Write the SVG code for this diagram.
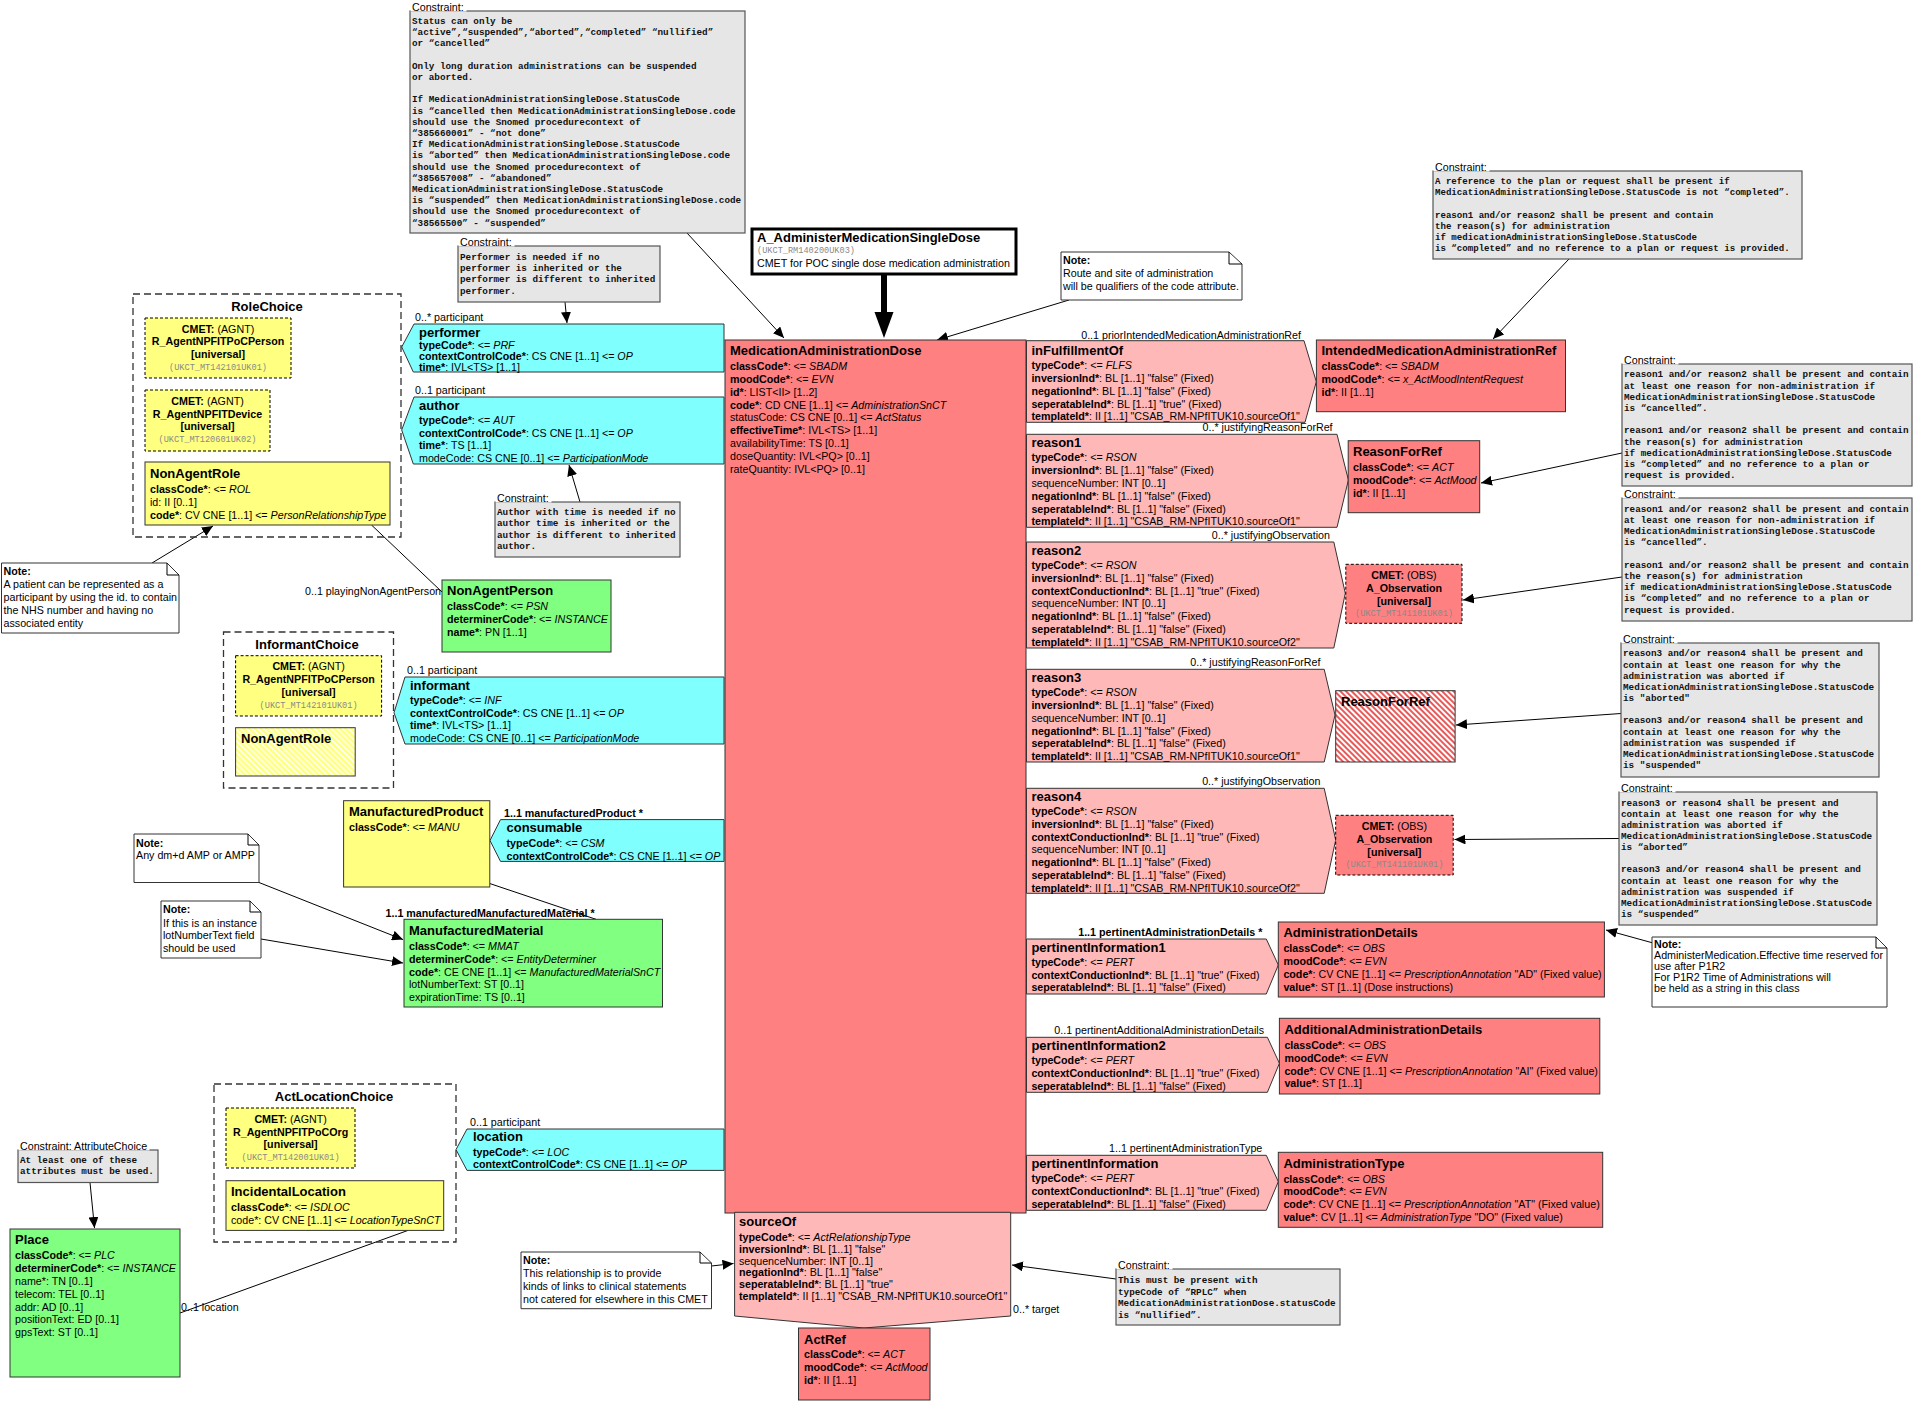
<svg xmlns="http://www.w3.org/2000/svg" width="1914" height="1401" viewBox="0 0 1914 1401">
<style>
text{font-family:"Liberation Sans",Arial,sans-serif;font-size:10.7px;fill:#000}
.h{font-weight:bold;font-size:13px}
.b{font-weight:bold}
.i{font-style:italic}
.m{font-family:"Liberation Mono","Courier New",monospace;font-size:9.3px;font-weight:bold;fill:#111}
.m2{font-size:9.1px}
.id{font-family:"Liberation Mono","Courier New",monospace;font-size:8.6px;fill:#8a8a8a}
.c{text-anchor:middle}
.e{text-anchor:end}
.con{fill:#E6E6E6;stroke:#555;stroke-width:1.2}
.note{fill:#fff;stroke:#333;stroke-width:1}
.part{fill:#80FFFF;stroke:#333;stroke-width:1}
.rel{fill:#FFB8B8;stroke:#333;stroke-width:1}
.act{fill:#FF8080;stroke:#333;stroke-width:1}
.role{fill:#FFFF80;stroke:#333;stroke-width:1}
.ent{fill:#80FF80;stroke:#333;stroke-width:1}
.cmetY{fill:#FFFF80;stroke:#000;stroke-width:1;stroke-dasharray:3,2}
.cmetR{fill:#FF8080;stroke:#000;stroke-width:1;stroke-dasharray:3,2}
.choice{fill:none;stroke:#333;stroke-width:1.3;stroke-dasharray:7,4}
.lbg{fill:#fff}
.ln{fill:none;stroke:#000;stroke-width:1}
.arr{fill:none;stroke:#000;stroke-width:1;marker-end:url(#ah)}
</style>
<defs>
<marker id="ah" markerUnits="userSpaceOnUse" markerWidth="12" markerHeight="10" refX="11" refY="5" orient="auto">
<path d="M0,0 L11,5 L0,10 Z" fill="#000"/>
</marker>
<pattern id="hatchY" patternUnits="userSpaceOnUse" width="4" height="4" patternTransform="rotate(45)">
<rect width="4" height="4" fill="#FFFF80"/>
<rect width="4" height="1.4" fill="#fff"/>
</pattern>
<pattern id="hatchR" patternUnits="userSpaceOnUse" width="4" height="4" patternTransform="rotate(45)">
<rect width="4" height="4" fill="#fff"/>
<rect width="4" height="2" fill="#E85A5A"/>
</pattern>
</defs>
<rect width="1914" height="1401" fill="#fff"/>

<!-- Connectors -->
<g id="connectors">
<path class="arr" d="M687,233 L784,338"/>
<path class="arr" d="M1069,300 L937,340"/>
<path class="arr" d="M565,302 L567,323"/>
<path class="arr" d="M580,502 L569,465"/>
<path class="arr" d="M152,563 L213,526"/>
<path class="ln" d="M371.5,525 L442,592"/>
<path class="arr" d="M1569,259 L1493,339"/>
<path class="arr" d="M1622,453 L1481,483"/>
<path class="arr" d="M1622,577 L1463,600"/>
<path class="arr" d="M1621,713.5 L1456,725"/>
<path class="arr" d="M1619,838.5 L1454.5,839.5"/>
<path class="arr" d="M1652,942.7 L1606,930"/>
<path class="arr" d="M259,882.5 L403,939.6"/>
<path class="arr" d="M261,939 L403,963"/>
<path class="ln" d="M490,883.6 L596,919.3"/>
<path class="arr" d="M90,1182.5 L94.5,1228"/>
<path class="ln" d="M408,1230.4 L180,1313"/>
<path class="arr" d="M711.5,1266 L733.5,1263.5"/>
<path class="arr" d="M1116,1279 L1012,1265"/>
<path d="M884,274 L884,315" stroke="#000" stroke-width="6"/>
<path d="M874.5,312 L893.5,312 L884,338 Z" fill="#000"/>
<text x="305" y="595.4">0..1 playingNonAgentPerson</text>
<text x="181" y="1311">0..1 location</text>
<text x="1013" y="1313">0..* target</text>
</g>

<!-- Constraint C1 -->
<g id="constraint-status">
<rect class="con" x="410" y="11" width="335" height="222"/>
<rect class="lbg" x="410.5" y="1" width="56" height="10.5"/>
<text x="412" y="11">Constraint:</text>
<text class="m" x="412" y="24">Status can only be</text>
<text class="m" x="412" y="35.2">“active”,“suspended”,“aborted”,“completed” “nullified”</text>
<text class="m" x="412" y="46.4">or “cancelled”</text>
<text class="m" x="412" y="68.8">Only long duration administrations can be suspended</text>
<text class="m" x="412" y="80">or aborted.</text>
<text class="m" x="412" y="102.4">If MedicationAdministrationSingleDose.StatusCode</text>
<text class="m" x="412" y="113.6">is “cancelled then MedicationAdministrationSingleDose.code</text>
<text class="m" x="412" y="124.8">should use the Snomed procedurecontext of</text>
<text class="m" x="412" y="136">“385660001” - “not done”</text>
<text class="m" x="412" y="147.2">If MedicationAdministrationSingleDose.StatusCode</text>
<text class="m" x="412" y="158.4">is “aborted” then MedicationAdministrationSingleDose.code</text>
<text class="m" x="412" y="169.6">should use the Snomed procedurecontext of</text>
<text class="m" x="412" y="180.8">“385657008” - “abandoned”</text>
<text class="m" x="412" y="192">MedicationAdministrationSingleDose.StatusCode</text>
<text class="m" x="412" y="203.2">is “suspended” then MedicationAdministrationSingleDose.code</text>
<text class="m" x="412" y="214.4">should use the Snomed procedurecontext of</text>
<text class="m" x="412" y="225.6">“38565500” - “suspended”</text>
</g>

<g id="constraint-performer">
<rect class="con" x="458" y="246" width="202" height="56"/>
<rect class="lbg" x="458.5" y="236" width="56" height="10.5"/>
<text x="460" y="246">Constraint:</text>
<text class="m" x="460" y="259.7">Performer is needed if no</text>
<text class="m" x="460" y="271">performer is inherited or the</text>
<text class="m" x="460" y="282.3">performer is different to inherited</text>
<text class="m" x="460" y="293.7">performer.</text>
</g>

<g id="constraint-author">
<rect class="con" x="495" y="502" width="185" height="55"/>
<rect class="lbg" x="495.5" y="492" width="56" height="10.5"/>
<text x="497" y="502">Constraint:</text>
<text class="m" x="497" y="515">Author with time is needed if no</text>
<text class="m" x="497" y="526.3">author time is inherited or the</text>
<text class="m" x="497" y="537.7">author is different to inherited</text>
<text class="m" x="497" y="549">author.</text>
</g>

<g id="constraint-reference">
<rect class="con" x="1433" y="171" width="369" height="88"/>
<rect class="lbg" x="1433.5" y="161" width="56" height="10.5"/>
<text x="1435" y="171">Constraint:</text>
<text class="m m2" x="1435" y="184">A reference to the plan or request shall be present if</text>
<text class="m m2" x="1435" y="195.3">MedicationAdministrationSingleDose.StatusCode is not “completed”.</text>
<text class="m m2" x="1435" y="217.7">reason1 and/or reason2 shall be present and contain</text>
<text class="m m2" x="1435" y="229">the reason(s) for administration</text>
<text class="m m2" x="1435" y="240.3">if medicationAdministrationSingleDose.StatusCode</text>
<text class="m m2" x="1435" y="251.3">is “completed” and no reference to a plan or request is provided.</text>
</g>

<g id="constraint-reason1">
<rect class="con" x="1622" y="364" width="290" height="122"/>
<rect class="lbg" x="1622.5" y="354" width="56" height="10.5"/>
<text x="1624" y="364">Constraint:</text>
<text class="m" x="1624" y="377.3">reason1 and/or reason2 shall be present and contain</text>
<text class="m" x="1624" y="388.7">at least one reason for non-administration if</text>
<text class="m" x="1624" y="400">MedicationAdministrationSingleDose.StatusCode</text>
<text class="m" x="1624" y="411">is “cancelled”.</text>
<text class="m" x="1624" y="433.3">reason1 and/or reason2 shall be present and contain</text>
<text class="m" x="1624" y="444.7">the reason(s) for administration</text>
<text class="m" x="1624" y="455.7">if medicationAdministrationSingleDose.StatusCode</text>
<text class="m" x="1624" y="467">is “completed” and no reference to a plan or</text>
<text class="m" x="1624" y="478.3">request is provided.</text>
</g>

<g id="constraint-reason2">
<rect class="con" x="1622" y="498" width="290" height="123"/>
<rect class="lbg" x="1622.5" y="488" width="56" height="10.5"/>
<text x="1624" y="498">Constraint:</text>
<text class="m" x="1624" y="512">reason1 and/or reason2 shall be present and contain</text>
<text class="m" x="1624" y="523.3">at least one reason for non-administration if</text>
<text class="m" x="1624" y="534.3">MedicationAdministrationSingleDose.StatusCode</text>
<text class="m" x="1624" y="545.3">is “cancelled”.</text>
<text class="m" x="1624" y="568">reason1 and/or reason2 shall be present and contain</text>
<text class="m" x="1624" y="579">the reason(s) for administration</text>
<text class="m" x="1624" y="590.3">if medicationAdministrationSingleDose.StatusCode</text>
<text class="m" x="1624" y="601.3">is “completed” and no reference to a plan or</text>
<text class="m" x="1624" y="612.7">request is provided.</text>
</g>

<g id="constraint-reason3">
<rect class="con" x="1621" y="643" width="258" height="134"/>
<rect class="lbg" x="1621.5" y="633" width="56" height="10.5"/>
<text x="1623" y="643">Constraint:</text>
<text class="m" x="1623" y="656.3">reason3 and/or reason4 shall be present and</text>
<text class="m" x="1623" y="667.7">contain at least one reason for why the</text>
<text class="m" x="1623" y="679">administration was aborted if</text>
<text class="m" x="1623" y="689.7">MedicationAdministrationSingleDose.StatusCode</text>
<text class="m" x="1623" y="701">is "aborted"</text>
<text class="m" x="1623" y="723">reason3 and/or reason4 shall be present and</text>
<text class="m" x="1623" y="734.7">contain at least one reason for why the</text>
<text class="m" x="1623" y="745.7">administration was suspended if</text>
<text class="m" x="1623" y="757">MedicationAdministrationSingleDose.StatusCode</text>
<text class="m" x="1623" y="768.3">is "suspended"</text>
</g>

<g id="constraint-reason4">
<rect class="con" x="1619" y="792" width="258" height="133"/>
<rect class="lbg" x="1619.5" y="782" width="56" height="10.5"/>
<text x="1621" y="792">Constraint:</text>
<text class="m" x="1621" y="805.7">reason3 or reason4 shall be present and</text>
<text class="m" x="1621" y="817">contain at least one reason for why the</text>
<text class="m" x="1621" y="828">administration was aborted if</text>
<text class="m" x="1621" y="839">MedicationAdministrationSingleDose.StatusCode</text>
<text class="m" x="1621" y="850.3">is “aborted”</text>
<text class="m" x="1621" y="872.3">reason3 and/or reason4 shall be present and</text>
<text class="m" x="1621" y="883.7">contain at least one reason for why the</text>
<text class="m" x="1621" y="894.7">administration was suspended if</text>
<text class="m" x="1621" y="905.7">MedicationAdministrationSingleDose.StatusCode</text>
<text class="m" x="1621" y="917">is “suspended”</text>
</g>

<g id="constraint-attributechoice">
<rect class="con" x="18" y="1150" width="140" height="32.5"/>
<rect class="lbg" x="18.5" y="1140" width="131" height="10.5"/>
<text x="20" y="1150">Constraint: AttributeChoice</text>
<text class="m" x="20" y="1163.4">At least one of these</text>
<text class="m" x="20" y="1174.4">attributes must be used.</text>
</g>

<g id="constraint-rplc">
<rect class="con" x="1116" y="1269" width="224" height="56"/>
<rect class="lbg" x="1116.5" y="1259" width="56" height="10.5"/>
<text x="1118" y="1269">Constraint:</text>
<text class="m" x="1118" y="1283">This must be present with</text>
<text class="m" x="1118" y="1294.7">typeCode of “RPLC” when</text>
<text class="m" x="1118" y="1306">MedicationAdministrationDose.statusCode</text>
<text class="m" x="1118" y="1317.7">is “nullified”.</text>
</g>

<!-- Notes -->
<g id="note-patient">
<path class="note" d="M1.5,563 H167 L179,575 V633 H1.5 Z"/>
<path class="ln" d="M167,563 V575 H179"/>
<text class="b" x="3.5" y="575.4">Note:</text>
<text x="3.5" y="588.4">A patient can be represented as  a</text>
<text x="3.5" y="601">participant by using the id. to contain</text>
<text x="3.5" y="613.7">the NHS number and having no</text>
<text x="3.5" y="626.7">associated entity</text>
</g>

<g id="note-route">
<path class="note" d="M1061,252 H1229 L1242,264 V300 H1061 Z"/>
<path class="ln" d="M1229,252 V264 H1242"/>
<text class="b" x="1063" y="264.4">Note:</text>
<text x="1063" y="277">Route and site of administration</text>
<text x="1063" y="289.7">will be qualifiers of the code attribute.</text>
</g>

<g id="note-amp">
<path class="note" d="M134,834 H248 L259,845 V882.5 H134 Z"/>
<path class="ln" d="M248,834 V845 H259"/>
<text class="b" x="136" y="846.6">Note:</text>
<text x="136" y="859.1">Any dm+d AMP or AMPP</text>
</g>

<g id="note-lot">
<path class="note" d="M161,901 H250 L261,912 V958 H161 Z"/>
<path class="ln" d="M250,901 V912 H261"/>
<text class="b" x="163" y="913.3">Note:</text>
<text x="163" y="926.6">If this is an instance</text>
<text x="163" y="939.1">lotNumberText field</text>
<text x="163" y="951.9">should be used</text>
</g>

<g id="note-relationship">
<path class="note" d="M521,1252 H700 L711.5,1263 V1308.7 H521 Z"/>
<path class="ln" d="M700,1252 V1263 H711.5"/>
<text class="b" x="523" y="1264.1">Note:</text>
<text x="523" y="1276.9">This relationship is to provide</text>
<text x="523" y="1289.7">kinds of links to clinical statements</text>
<text x="523" y="1302.7">not catered for elsewhere in this CMET</text>
</g>

<g id="note-effectivetime">
<path class="note" d="M1652,937 H1876 L1887,948 V1007 H1652 Z"/>
<path class="ln" d="M1876,937 V948 H1887"/>
<text class="b" x="1654" y="947.7">Note:</text>
<text x="1654" y="958.7">AdministerMedication.Effective time reserved for</text>
<text x="1654" y="970.4">use after P1R2</text>
<text x="1654" y="981">For P1R2 Time of Administrations  will</text>
<text x="1654" y="992">be held as a string in this class</text>
</g>

<!-- Entry point -->
<g id="entry-point">
<rect x="752" y="229" width="264" height="45" fill="#fff" stroke="#000" stroke-width="3"/>
<text class="h" x="757" y="242">A_AdministerMedicationSingleDose</text>
<text class="id" x="757" y="252.5">(UKCT_RM140200UK03)</text>
<text x="757" y="267">CMET for POC single dose medication administration</text>
</g>

<!-- Main act -->
<g id="MedicationAdministrationDose">
<rect class="act" x="725" y="340" width="301" height="873"/>
<text class="h" x="730" y="354.8">MedicationAdministrationDose</text>
<text x="730" y="370.4"><tspan class="b">classCode*</tspan>: &lt;= <tspan class="i">SBADM</tspan></text>
<text x="730" y="383"><tspan class="b">moodCode*</tspan>: &lt;= <tspan class="i">EVN</tspan></text>
<text x="730" y="395.7"><tspan class="b">id*</tspan>: LIST&lt;II&gt; [1..2]</text>
<text x="730" y="408.7"><tspan class="b">code*</tspan>: CD CNE [1..1] &lt;= <tspan class="i">AdministrationSnCT</tspan></text>
<text x="730" y="421.4">statusCode: CS CNE [0..1] &lt;= <tspan class="i">ActStatus</tspan></text>
<text x="730" y="434.4"><tspan class="b">effectiveTime*</tspan>: IVL&lt;TS&gt; [1..1]</text>
<text x="730" y="447">availabilityTime: TS [0..1]</text>
<text x="730" y="459.7">doseQuantity: IVL&lt;PQ&gt; [0..1]</text>
<text x="730" y="472.7">rateQuantity: IVL&lt;PQ&gt; [0..1]</text>
</g>

<!-- Participations -->
<g id="performer">
<text x="415" y="321">0..* participant</text>
<path class="part" d="M724,324 H414 L401.7,347 L413.3,372 H724 Z"/>
<text class="h" x="419" y="337">performer</text>
<text x="419" y="349.4"><tspan class="b">typeCode*</tspan>: &lt;= <tspan class="i">PRF</tspan></text>
<text x="419" y="360"><tspan class="b">contextControlCode*</tspan>: CS CNE [1..1] &lt;= <tspan class="i">OP</tspan></text>
<text x="419" y="370.7"><tspan class="b">time*</tspan>: IVL&lt;TS&gt; [1..1]</text>
</g>

<g id="author">
<text x="415" y="394">0..1 participant</text>
<path class="part" d="M724,397 H414 L401.7,430 L413.3,464 H724 Z"/>
<text class="h" x="419" y="409.5">author</text>
<text x="419" y="424"><tspan class="b">typeCode*</tspan>: &lt;= <tspan class="i">AUT</tspan></text>
<text x="419" y="436.7"><tspan class="b">contextControlCode*</tspan>: CS CNE [1..1] &lt;= <tspan class="i">OP</tspan></text>
<text x="419" y="449.4"><tspan class="b">time*</tspan>: TS [1..1]</text>
<text x="419" y="462">modeCode: CS CNE [0..1] &lt;= <tspan class="i">ParticipationMode</tspan></text>
</g>

<g id="informant">
<text x="407" y="674">0..1 participant</text>
<path class="part" d="M724,677 H405 L394,712.7 L405,744 H724 Z"/>
<text class="h" x="410" y="689.5">informant</text>
<text x="410" y="703.7"><tspan class="b">typeCode*</tspan>: &lt;= <tspan class="i">INF</tspan></text>
<text x="410" y="717"><tspan class="b">contextControlCode*</tspan>: CS CNE [1..1] &lt;= <tspan class="i">OP</tspan></text>
<text x="410" y="729.4"><tspan class="b">time*</tspan>: IVL&lt;TS&gt; [1..1]</text>
<text x="410" y="742">modeCode: CS CNE [0..1] &lt;= <tspan class="i">ParticipationMode</tspan></text>
</g>

<g id="consumable">
<text class="b" x="504" y="816.7">1..1 manufacturedProduct  *</text>
<path class="part" d="M724,819.6 H500.5 L490,840.5 L500.5,861.4 H724 Z"/>
<text class="h" x="506.5" y="832.4">consumable</text>
<text x="506.5" y="847"><tspan class="b">typeCode*</tspan>: &lt;= <tspan class="i">CSM</tspan></text>
<text x="506.5" y="859.7"><tspan class="b">contextControlCode*</tspan>: CS CNE [1..1] &lt;= <tspan class="i">OP</tspan></text>
</g>

<g id="location">
<text x="470" y="1125.7">0..1 participant</text>
<path class="part" d="M724,1129 H467 L456,1149.6 L467,1170.4 H724 Z"/>
<text class="h" x="473" y="1141.3">location</text>
<text x="473" y="1155.5"><tspan class="b">typeCode*</tspan>: &lt;= <tspan class="i">LOC</tspan></text>
<text x="473" y="1168.3"><tspan class="b">contextControlCode*</tspan>: CS CNE [1..1] &lt;= <tspan class="i">OP</tspan></text>
</g>

<!-- RoleChoice -->
<g id="RoleChoice">
<rect class="choice" x="133" y="294" width="268" height="243"/>
<text class="h c" x="267" y="311">RoleChoice</text>
</g>
<g id="cmet-poc-person-1">
<rect class="cmetY" x="145" y="318" width="146" height="60"/>
<text class="c" x="218" y="332.7"><tspan class="b">CMET:</tspan> (AGNT)</text>
<text class="c b" x="218" y="345.4">R_AgentNPFITPoCPerson</text>
<text class="c b" x="218" y="358">[universal]</text>
<text class="id c" x="218" y="370">(UKCT_MT142101UK01)</text>
</g>
<g id="cmet-device">
<rect class="cmetY" x="145" y="390" width="125" height="61"/>
<text class="c" x="207.5" y="404.7"><tspan class="b">CMET:</tspan> (AGNT)</text>
<text class="c b" x="207.5" y="417.7">R_AgentNPFITDevice</text>
<text class="c b" x="207.5" y="430.4">[universal]</text>
<text class="id c" x="207.5" y="442">(UKCT_MT120601UK02)</text>
</g>
<g id="NonAgentRole">
<rect class="role" x="145" y="462" width="245" height="63"/>
<text class="h" x="150" y="477.5">NonAgentRole</text>
<text x="150" y="493"><tspan class="b">classCode*</tspan>: &lt;= <tspan class="i">ROL</tspan></text>
<text x="150" y="505.7">id: II [0..1]</text>
<text x="150" y="518.7"><tspan class="b">code*</tspan>: CV CNE [1..1] &lt;= <tspan class="i">PersonRelationshipType</tspan></text>
</g>

<g id="NonAgentPerson">
<rect class="ent" x="442" y="580" width="169" height="72"/>
<text class="h" x="447" y="595">NonAgentPerson</text>
<text x="447" y="610.4"><tspan class="b">classCode*</tspan>: &lt;= <tspan class="i">PSN</tspan></text>
<text x="447" y="623"><tspan class="b">determinerCode*</tspan>: &lt;= <tspan class="i">INSTANCE</tspan></text>
<text x="447" y="636"><tspan class="b">name*</tspan>: PN [1..1]</text>
</g>

<!-- InformantChoice -->
<g id="InformantChoice">
<rect class="choice" x="223.5" y="632" width="170" height="156"/>
<text class="h c" x="307" y="648.5">InformantChoice</text>
</g>
<g id="cmet-poc-person-2">
<rect class="cmetY" x="235.6" y="655.7" width="146" height="60.3"/>
<text class="c" x="308.6" y="670.4"><tspan class="b">CMET:</tspan> (AGNT)</text>
<text class="c b" x="308.6" y="683">R_AgentNPFITPoCPerson</text>
<text class="c b" x="308.6" y="696">[universal]</text>
<text class="id c" x="308.6" y="707.5">(UKCT_MT142101UK01)</text>
</g>
<g id="NonAgentRole-ref">
<rect x="235.6" y="727.7" width="119.6" height="48.3" fill="url(#hatchY)" stroke="#333" stroke-width="1"/>
<text class="h" x="241" y="742.8">NonAgentRole</text>
</g>

<!-- Manufactured -->
<g id="ManufacturedProduct">
<rect class="role" x="343.6" y="800.7" width="146.2" height="86.3"/>
<text class="h" x="349" y="815.9">ManufacturedProduct</text>
<text x="349" y="830.7"><tspan class="b">classCode*</tspan>: &lt;= <tspan class="i">MANU</tspan></text>
</g>
<g id="ManufacturedMaterial">
<text class="b" x="385.5" y="916.6">1..1 manufacturedManufacturedMaterial  *</text>
<rect class="ent" x="404" y="919.3" width="258.5" height="87.7"/>
<text class="h" x="409" y="934.5">ManufacturedMaterial</text>
<text x="409" y="949.7"><tspan class="b">classCode*</tspan>: &lt;= <tspan class="i">MMAT</tspan></text>
<text x="409" y="962.7"><tspan class="b">determinerCode*</tspan>: &lt;= <tspan class="i">EntityDeterminer</tspan></text>
<text x="409" y="975.5"><tspan class="b">code*</tspan>: CE CNE [1..1] &lt;= <tspan class="i">ManufacturedMaterialSnCT</tspan></text>
<text x="409" y="988">lotNumberText: ST [0..1]</text>
<text x="409" y="1001.2">expirationTime: TS [0..1]</text>
</g>

<!-- ActLocationChoice -->
<g id="ActLocationChoice">
<rect class="choice" x="214" y="1084" width="242" height="158"/>
<text class="h c" x="334" y="1101.3">ActLocationChoice</text>
</g>
<g id="cmet-poc-org">
<rect class="cmetY" x="226" y="1108" width="129" height="60"/>
<text class="c" x="290.6" y="1122.7"><tspan class="b">CMET:</tspan> (AGNT)</text>
<text class="c b" x="290.6" y="1135.5">R_AgentNPFITPoCOrg</text>
<text class="c b" x="290.6" y="1148.3">[universal]</text>
<text class="id c" x="290.6" y="1159.5">(UKCT_MT142001UK01)</text>
</g>
<g id="IncidentalLocation">
<rect class="role" x="226" y="1180.7" width="217.7" height="49.7"/>
<text class="h" x="231" y="1195.5">IncidentalLocation</text>
<text x="231" y="1210.5"><tspan class="b">classCode*</tspan>: &lt;= <tspan class="i">ISDLOC</tspan></text>
<text x="231" y="1223.7">code*: CV CNE [1..1] &lt;= <tspan class="i">LocationTypeSnCT</tspan></text>
</g>

<g id="Place">
<rect class="ent" x="10" y="1229" width="170" height="148"/>
<text class="h" x="15" y="1244">Place</text>
<text x="15" y="1259.4"><tspan class="b">classCode*</tspan>: &lt;= <tspan class="i">PLC</tspan></text>
<text x="15" y="1272.3"><tspan class="b">determinerCode*</tspan>: &lt;= <tspan class="i">INSTANCE</tspan></text>
<text x="15" y="1285">name*: TN [0..1]</text>
<text x="15" y="1298">telecom: TEL [0..1]</text>
<text x="15" y="1310.7">addr: AD [0..1]</text>
<text x="15" y="1323.3">positionText: ED [0..1]</text>
<text x="15" y="1336.2">gpsText: ST [0..1]</text>
</g>

<!-- sourceOf / ActRef -->
<g id="sourceOf">
<path class="rel" d="M734.6,1212.3 H1010.7 V1316 L864,1328 L734.6,1316 Z"/>
<text class="h" x="739" y="1226">sourceOf</text>
<text x="739" y="1241"><tspan class="b">typeCode*</tspan>: &lt;= <tspan class="i">ActRelationshipType</tspan></text>
<text x="739" y="1252.7"><tspan class="b">inversionInd*</tspan>: BL [1..1] "false"</text>
<text x="739" y="1264.7">sequenceNumber: INT [0..1]</text>
<text x="739" y="1276.4"><tspan class="b">negationInd*</tspan>: BL [1..1] "false"</text>
<text x="739" y="1288"><tspan class="b">seperatableInd*</tspan>: BL [1..1] "true"</text>
<text x="739" y="1300"><tspan class="b">templateId*</tspan>: II [1..1] "CSAB_RM-NPfITUK10.sourceOf1"</text>
</g>
<g id="ActRef">
<rect class="act" x="798.5" y="1328" width="131.5" height="72"/>
<text class="h" x="804" y="1343.6">ActRef</text>
<text x="804" y="1358.4"><tspan class="b">classCode*</tspan>: &lt;= <tspan class="i">ACT</tspan></text>
<text x="804" y="1371.4"><tspan class="b">moodCode*</tspan>: &lt;= <tspan class="i">ActMood</tspan></text>
<text x="804" y="1384.4"><tspan class="b">id*</tspan>: II [1..1]</text>
</g>

<!-- Right side act relationships -->
<g id="inFulfillmentOf">
<text class="e" x="1301" y="338.7">0..1 priorIntendedMedicationAdministrationRef</text>
<path class="rel" d="M1026.5,340.7 H1304 L1316.3,381.7 L1305,422.3 H1026.5 Z"/>
<text class="h" x="1031.4" y="354.5">inFulfillmentOf</text>
<text x="1031.4" y="368.7"><tspan class="b">typeCode*</tspan>: &lt;= <tspan class="i">FLFS</tspan></text>
<text x="1031.4" y="382"><tspan class="b">inversionInd*</tspan>: BL [1..1] "false" (Fixed)</text>
<text x="1031.4" y="394.7"><tspan class="b">negationInd*</tspan>: BL [1..1] "false" (Fixed)</text>
<text x="1031.4" y="407.7"><tspan class="b">seperatableInd*</tspan>: BL [1..1] "true" (Fixed)</text>
<text x="1031.4" y="420.4"><tspan class="b">templateId*</tspan>: II [1..1] "CSAB_RM-NPfITUK10.sourceOf1"</text>
</g>
<g id="IntendedMedicationAdministrationRef">
<rect class="act" x="1316.4" y="340" width="249.1" height="71.7"/>
<text class="h" x="1321.5" y="355.2">IntendedMedicationAdministrationRef</text>
<text x="1321.5" y="370.4"><tspan class="b">classCode*</tspan>: &lt;= <tspan class="i">SBADM</tspan></text>
<text x="1321.5" y="383"><tspan class="b">moodCode*</tspan>: &lt;= <tspan class="i">x_ActMoodIntentRequest</tspan></text>
<text x="1321.5" y="396"><tspan class="b">id*</tspan>: II [1..1]</text>
</g>

<g id="reason1">
<text class="e" x="1332.6" y="431.4">0..* justifyingReasonForRef</text>
<path class="rel" d="M1026.5,434.3 H1337 L1348.4,480 L1337,527.3 H1026.5 Z"/>
<text class="h" x="1031.4" y="447.2">reason1</text>
<text x="1031.4" y="461.4"><tspan class="b">typeCode*</tspan>: &lt;= <tspan class="i">RSON</tspan></text>
<text x="1031.4" y="474.4"><tspan class="b">inversionInd*</tspan>: BL [1..1] "false" (Fixed)</text>
<text x="1031.4" y="487">sequenceNumber: INT [0..1]</text>
<text x="1031.4" y="500"><tspan class="b">negationInd*</tspan>: BL [1..1] "false" (Fixed)</text>
<text x="1031.4" y="512.7"><tspan class="b">seperatableInd*</tspan>: BL [1..1] "false" (Fixed)</text>
<text x="1031.4" y="525.4"><tspan class="b">templateId*</tspan>: II [1..1] "CSAB_RM-NPfITUK10.sourceOf1"</text>
</g>
<g id="ReasonForRef">
<rect class="act" x="1348.2" y="440.7" width="131.5" height="72"/>
<text class="h" x="1353" y="456.2">ReasonForRef</text>
<text x="1353" y="470.7"><tspan class="b">classCode*</tspan>: &lt;= <tspan class="i">ACT</tspan></text>
<text x="1353" y="483.7"><tspan class="b">moodCode*</tspan>: &lt;= <tspan class="i">ActMood</tspan></text>
<text x="1353" y="496.7"><tspan class="b">id*</tspan>: II [1..1]</text>
</g>

<g id="reason2">
<text class="e" x="1330" y="539">0..* justifyingObservation</text>
<path class="rel" d="M1026.5,542 H1333.8 L1345.3,593.3 L1333.8,648 H1026.5 Z"/>
<text class="h" x="1031.4" y="554.5">reason2</text>
<text x="1031.4" y="568.7"><tspan class="b">typeCode*</tspan>: &lt;= <tspan class="i">RSON</tspan></text>
<text x="1031.4" y="581.7"><tspan class="b">inversionInd*</tspan>: BL [1..1] "false" (Fixed)</text>
<text x="1031.4" y="594.7"><tspan class="b">contextConductionInd*</tspan>: BL [1..1] "true" (Fixed)</text>
<text x="1031.4" y="607.4">sequenceNumber: INT [0..1]</text>
<text x="1031.4" y="620"><tspan class="b">negationInd*</tspan>: BL [1..1] "false" (Fixed)</text>
<text x="1031.4" y="633"><tspan class="b">seperatableInd*</tspan>: BL [1..1] "false" (Fixed)</text>
<text x="1031.4" y="645.7"><tspan class="b">templateId*</tspan>: II [1..1] "CSAB_RM-NPfITUK10.sourceOf2"</text>
</g>
<g id="cmet-observation-1">
<rect class="cmetR" x="1345.8" y="564.3" width="116.2" height="59"/>
<text class="c" x="1404" y="579"><tspan class="b">CMET:</tspan> (OBS)</text>
<text class="c b" x="1404" y="591.7">A_Observation</text>
<text class="c b" x="1404" y="604.7">[universal]</text>
<text class="id c" x="1404" y="616">(UKCT_MT141101UK01)</text>
</g>

<g id="reason3">
<text class="e" x="1320.4" y="666">0..* justifyingReasonForRef</text>
<path class="rel" d="M1026.5,669.3 H1324.2 L1335,715 L1324.2,762 H1026.5 Z"/>
<text class="h" x="1031.4" y="681.8">reason3</text>
<text x="1031.4" y="696"><tspan class="b">typeCode*</tspan>: &lt;= <tspan class="i">RSON</tspan></text>
<text x="1031.4" y="709"><tspan class="b">inversionInd*</tspan>: BL [1..1] "false" (Fixed)</text>
<text x="1031.4" y="721.7">sequenceNumber: INT [0..1]</text>
<text x="1031.4" y="734.7"><tspan class="b">negationInd*</tspan>: BL [1..1] "false" (Fixed)</text>
<text x="1031.4" y="747.4"><tspan class="b">seperatableInd*</tspan>: BL [1..1] "false" (Fixed)</text>
<text x="1031.4" y="760"><tspan class="b">templateId*</tspan>: II [1..1] "CSAB_RM-NPfITUK10.sourceOf1"</text>
</g>
<g id="ReasonForRef-ref">
<rect x="1335.7" y="690.7" width="119.4" height="71.3" fill="url(#hatchR)" stroke="#333" stroke-width="1"/>
<text class="h" x="1341" y="705.5">ReasonForRef</text>
</g>

<g id="reason4">
<text class="e" x="1320.4" y="785.4">0..* justifyingObservation</text>
<path class="rel" d="M1026.5,788.3 H1324.2 L1335.7,840 L1324.2,893.3 H1026.5 Z"/>
<text class="h" x="1031.4" y="801">reason4</text>
<text x="1031.4" y="814.7"><tspan class="b">typeCode*</tspan>: &lt;= <tspan class="i">RSON</tspan></text>
<text x="1031.4" y="827.7"><tspan class="b">inversionInd*</tspan>: BL [1..1] "false" (Fixed)</text>
<text x="1031.4" y="840.7"><tspan class="b">contextConductionInd*</tspan>: BL [1..1] "true" (Fixed)</text>
<text x="1031.4" y="853.4">sequenceNumber: INT [0..1]</text>
<text x="1031.4" y="866.4"><tspan class="b">negationInd*</tspan>: BL [1..1] "false" (Fixed)</text>
<text x="1031.4" y="879"><tspan class="b">seperatableInd*</tspan>: BL [1..1] "false" (Fixed)</text>
<text x="1031.4" y="891.7"><tspan class="b">templateId*</tspan>: II [1..1] "CSAB_RM-NPfITUK10.sourceOf2"</text>
</g>
<g id="cmet-observation-2">
<rect class="cmetR" x="1335.7" y="815.3" width="117.5" height="59.7"/>
<text class="c" x="1394.4" y="830"><tspan class="b">CMET:</tspan> (OBS)</text>
<text class="c b" x="1394.4" y="842.7">A_Observation</text>
<text class="c b" x="1394.4" y="855.7">[universal]</text>
<text class="id c" x="1394.4" y="867">(UKCT_MT141101UK01)</text>
</g>

<g id="pertinentInformation1">
<text class="b e" x="1262.3" y="936">1..1 pertinentAdministrationDetails  *</text>
<path class="rel" d="M1026.5,939 H1266.3 L1278.3,965 L1266.3,994 H1026.5 Z"/>
<text class="h" x="1031.4" y="951.8">pertinentInformation1</text>
<text x="1031.4" y="965.7"><tspan class="b">typeCode*</tspan>: &lt;= <tspan class="i">PERT</tspan></text>
<text x="1031.4" y="978.7"><tspan class="b">contextConductionInd*</tspan>: BL [1..1] "true" (Fixed)</text>
<text x="1031.4" y="991.4"><tspan class="b">seperatableInd*</tspan>: BL [1..1] "false" (Fixed)</text>
</g>
<g id="AdministrationDetails">
<rect class="act" x="1278.3" y="922" width="326.1" height="75"/>
<text class="h" x="1283.4" y="936.8">AdministrationDetails</text>
<text x="1283.4" y="952"><tspan class="b">classCode*</tspan>: &lt;= <tspan class="i">OBS</tspan></text>
<text x="1283.4" y="964.7"><tspan class="b">moodCode*</tspan>: &lt;= <tspan class="i">EVN</tspan></text>
<text x="1283.4" y="977.7"><tspan class="b">code*</tspan>: CV CNE [1..1] &lt;= <tspan class="i">PrescriptionAnnotation</tspan> "AD" (Fixed value)</text>
<text x="1283.4" y="990.7"><tspan class="b">value*</tspan>: ST [1..1] (Dose instructions)</text>
</g>

<g id="pertinentInformation2">
<text class="e" x="1264" y="1034">0..1 pertinentAdditionalAdministrationDetails</text>
<path class="rel" d="M1026.5,1037.3 H1267.4 L1279.4,1063.3 L1267.4,1092.3 H1026.5 Z"/>
<text class="h" x="1031.4" y="1050.2">pertinentInformation2</text>
<text x="1031.4" y="1064"><tspan class="b">typeCode*</tspan>: &lt;= <tspan class="i">PERT</tspan></text>
<text x="1031.4" y="1076.7"><tspan class="b">contextConductionInd*</tspan>: BL [1..1] "true" (Fixed)</text>
<text x="1031.4" y="1089.7"><tspan class="b">seperatableInd*</tspan>: BL [1..1] "false" (Fixed)</text>
</g>
<g id="AdditionalAdministrationDetails">
<rect class="act" x="1279.4" y="1018.3" width="320.4" height="75.7"/>
<text class="h" x="1284.4" y="1033.8">AdditionalAdministrationDetails</text>
<text x="1284.4" y="1049"><tspan class="b">classCode*</tspan>: &lt;= <tspan class="i">OBS</tspan></text>
<text x="1284.4" y="1061.7"><tspan class="b">moodCode*</tspan>: &lt;= <tspan class="i">EVN</tspan></text>
<text x="1284.4" y="1074.7"><tspan class="b">code*</tspan>: CV CNE [1..1] &lt;= <tspan class="i">PrescriptionAnnotation</tspan> "AI" (Fixed value)</text>
<text x="1284.4" y="1087.4"><tspan class="b">value*</tspan>: ST [1..1]</text>
</g>

<g id="pertinentInformation">
<text class="e" x="1262.3" y="1152">1..1 pertinentAdministrationType</text>
<path class="rel" d="M1026.5,1155.3 H1266.3 L1278.3,1181.7 L1266.3,1210.3 H1026.5 Z"/>
<text class="h" x="1031.4" y="1167.8">pertinentInformation</text>
<text x="1031.4" y="1182"><tspan class="b">typeCode*</tspan>: &lt;= <tspan class="i">PERT</tspan></text>
<text x="1031.4" y="1195"><tspan class="b">contextConductionInd*</tspan>: BL [1..1] "true" (Fixed)</text>
<text x="1031.4" y="1208"><tspan class="b">seperatableInd*</tspan>: BL [1..1] "false" (Fixed)</text>
</g>
<g id="AdministrationType">
<rect class="act" x="1278.3" y="1152.3" width="324.4" height="75"/>
<text class="h" x="1283.4" y="1167.5">AdministrationType</text>
<text x="1283.4" y="1182.7"><tspan class="b">classCode*</tspan>: &lt;= <tspan class="i">OBS</tspan></text>
<text x="1283.4" y="1195.4"><tspan class="b">moodCode*</tspan>: &lt;= <tspan class="i">EVN</tspan></text>
<text x="1283.4" y="1208"><tspan class="b">code*</tspan>: CV CNE [1..1] &lt;= <tspan class="i">PrescriptionAnnotation</tspan> "AT" (Fixed value)</text>
<text x="1283.4" y="1220.7"><tspan class="b">value*</tspan>: CV [1..1] &lt;= <tspan class="i">AdministrationType</tspan> "DO" (Fixed value)</text>
</g>
</svg>
